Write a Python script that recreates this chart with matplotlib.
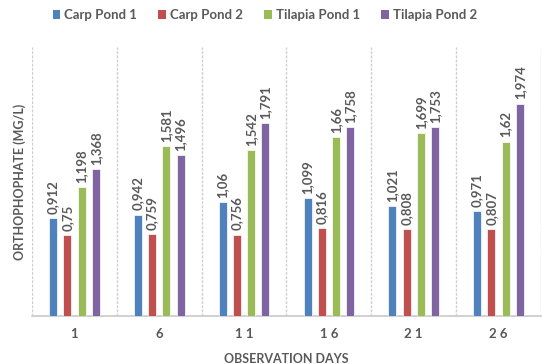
import matplotlib
matplotlib.use("Agg")
import matplotlib.pyplot as plt
import numpy as np
from matplotlib.patches import Patch

# Orthophosphate concentration (mg/L) per observation day
day_labels = ["1", "6", "1 1", "1 6", "2 1", "2 6"]
series_names = ["Carp Pond 1", "Carp Pond 2", "Tilapia Pond 1", "Tilapia Pond 2"]
carp_pond_1 = [0.912, 0.942, 1.06, 1.099, 1.021, 0.971]
carp_pond_2 = [0.75, 0.759, 0.756, 0.816, 0.808, 0.807]
tilapia_pond_1 = [1.198, 1.581, 1.542, 1.66, 1.699, 1.62]
tilapia_pond_2 = [1.368, 1.496, 1.791, 1.758, 1.753, 1.974]

colors = ["#4F81BD", "#C0504D", "#9BBB59", "#8064A2"]
text_gray = "#595959"
plt.rcParams["font.family"] = ["Lato", "DejaVu Sans"]

fig = plt.figure(figsize=(5.52, 3.64), dpi=100)
ax = fig.add_axes([0.058, 0.132, 0.922, 0.739])

series = [carp_pond_1, carp_pond_2, tilapia_pond_1, tilapia_pond_2]
x = np.arange(len(day_labels))
bar_w = 0.094
step = 0.168
for i, (vals, c) in enumerate(zip(series, colors)):
    xs = x + (i - 1.5) * step
    ax.bar(xs, vals, width=bar_w, color=c, edgecolor="#FFFFFF", linewidth=0.5, zorder=3)
    for xi, v in zip(xs, vals):
        ax.annotate(f"{v:g}".replace(".", ","), (xi, v), xytext=(0, 3),
                    textcoords="offset points", rotation=90, ha="center", va="bottom",
                    fontsize=9.5, color=text_gray, fontweight="bold")

ax.set_xlim(-0.5, len(day_labels) - 0.5)
ax.set_ylim(0, 2.5)

# vertical separators between day groups
for b in np.arange(-0.5, len(day_labels), 1.0):
    ax.axvline(b, color="#D0D0D0", linewidth=1.0, linestyle=(0, (2, 1)), zorder=1)

for s in ["top", "right", "left"]:
    ax.spines[s].set_visible(False)
ax.spines["bottom"].set_color("#C8C8C8")
ax.spines["bottom"].set_linewidth(1.2)
ax.set_yticks([])
ax.set_xticks(x)
ax.set_xticklabels(day_labels, fontsize=9.5, color=text_gray, fontweight="bold")
ax.tick_params(axis="x", length=0, pad=9)

ax.set_xlabel("OBSERVATION DAYS", fontsize=9, color=text_gray, fontweight="bold", labelpad=9)
ax.set_ylabel("ORTHOPHOPHATE (MG/L)", fontsize=9, color=text_gray, fontweight="bold", labelpad=4)

handles = [Patch(facecolor=c, edgecolor="none") for c in colors]
fig.legend(handles, series_names, loc="center", bbox_to_anchor=(0.48, 0.958), ncol=4,
           frameon=False, handlelength=0.6, handleheight=0.6, handletextpad=0.3,
           columnspacing=1.6, prop={"size": 9.5, "weight": "bold"}, labelcolor=text_gray)

fig.savefig("out.png", dpi=100, facecolor="white")
